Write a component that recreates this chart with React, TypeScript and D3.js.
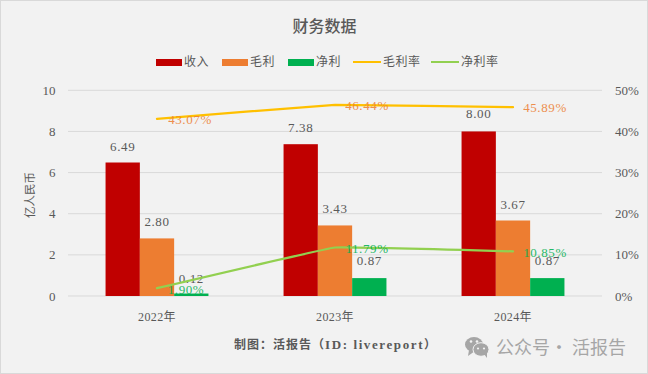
import React from "react";
import * as d3 from "d3";

const title = "财务数据";
const categories = ["2022年", "2023年", "2024年"];
const revenue = [6.49, 7.38, 8.0];
const grossProfit = [2.8, 3.43, 3.67];
const netProfit = [0.12, 0.87, 0.87];
const grossMargin = [43.07, 46.44, 45.89];
const netMargin = [1.9, 11.79, 10.85];
const leftTicks = [0, 2, 4, 6, 8, 10];
const rightTicks = [0, 10, 20, 30, 40, 50];
const barSeries = [
  { name: "收入", color: "#c00000", values: revenue },
  { name: "毛利", color: "#ed7d31", values: grossProfit },
  { name: "净利", color: "#00b050", values: netProfit },
];
const lineSeries = [
  { name: "毛利率", color: "#ffc000", labelColor: "#ed7d31", values: grossMargin },
  { name: "净利率", color: "#92d050", labelColor: "#00b050", values: netMargin },
];

const W = 648;
const H = 374;
const SERIF = "'Liberation Serif', 'Noto Sans CJK SC', serif";
const CJK = "'Liberation Serif', 'Noto Sans CJK SC', sans-serif";
const SANS = "'Noto Sans CJK SC', sans-serif";

export default function App() {
  const x = d3.scaleBand<string>().domain(categories).range([68, 602]);
  const y = d3.scaleLinear().domain([0, 10]).range([296, 90.3]);
  const yR = d3.scaleLinear().domain([0, 50]).range([296, 90.3]);
  const barW = 34.3;
  const center = (c: string) => (x(c) as number) + x.bandwidth() / 2;
  const line = d3
    .line<number>()
    .x((_, i) => center(categories[i]))
    .y((d) => yR(d))
    .curve(d3.curveCardinal.tension(0.85));

  const gridColor = "#d9d9d9";
  const textColor = "#595959";
  const labelYOffset = [
    [-12, -12, -13],
    [-12, -12, -12],
    [-11, -13, -13],
  ];
  const marginDx = [
    [33, 32, 32],
    [29, 32, 32],
  ];
  const marginDy = [
    [5, 5.5, 5],
    [6, 5.5, 5.5],
  ];
  const legendX = [156, 222, 288, 353, 431];

  return (
    <svg
      width={W}
      height={H}
      viewBox={`0 0 ${W} ${H}`}
      style={{ position: "fixed", left: 0, top: 0, display: "block" }}
    >
      <rect x={0.5} y={0.5} width={W - 1} height={H - 1} fill="#f2f2f2" stroke="#d9d9d9" strokeWidth={1} />
      <text x={324.5} y={32} textAnchor="middle" fontFamily={CJK} fontSize={16} fontWeight={500} fill={textColor}>
        {title}
      </text>

      {/* legend */}
      {barSeries.map((s, i) => (
        <g key={s.name}>
          <rect x={legendX[i]} y={59} width={26} height={7} fill={s.color} />
          <text x={legendX[i] + 28} y={66} fontFamily={CJK} fontSize={12} letterSpacing={0.5} fill={textColor}>
            {s.name}
          </text>
        </g>
      ))}
      {lineSeries.map((s, i) => (
        <g key={s.name}>
          <line x1={legendX[i + 3]} x2={legendX[i + 3] + 28} y1={62} y2={62} stroke={s.color} strokeWidth={2} />
          <text x={legendX[i + 3] + 30} y={66} fontFamily={CJK} fontSize={12} letterSpacing={0.5} fill={textColor}>
            {s.name}
          </text>
        </g>
      ))}

      {/* grid */}
      {leftTicks.map((t) => (
        <line key={t} x1={68} x2={602} y1={y(t)} y2={y(t)} stroke={gridColor} strokeWidth={1} />
      ))}
      {leftTicks.map((t) => (
        <text key={t} x={55.5} y={y(t) + 4.5} textAnchor="end" fontFamily={SERIF} fontSize={13} fill={textColor}>
          {t}
        </text>
      ))}
      {rightTicks.map((t) => (
        <text key={t} x={615} y={yR(t) + 4.5} fontFamily={SERIF} fontSize={13} fill={textColor}>
          {t}%
        </text>
      ))}
      <text
        transform="translate(34,195) rotate(-90)"
        textAnchor="middle"
        fontFamily={CJK}
        fontSize={11.5}
        fill={textColor}
      >
        亿人民币
      </text>

      {/* bars */}
      {barSeries.map((s, si) =>
        s.values.map((v, i) => {
          const bx = center(categories[i]) + (si - 1.5) * barW;
          return <rect key={s.name + i} x={bx} y={y(v)} width={barW} height={296 - y(v)} fill={s.color} />;
        })
      )}
      {barSeries.map((s, si) =>
        s.values.map((v, i) => (
          <text
            key={s.name + i}
            x={center(categories[i]) + (si - 1) * barW}
            y={y(v) + labelYOffset[si][i]}
            textAnchor="middle"
            fontFamily={SERIF}
            fontSize={13}
            letterSpacing={0.6}
            fill="#595959"
          >
            {v.toFixed(2)}
          </text>
        ))
      )}

      {/* lines */}
      {lineSeries.map((s) => (
        <path key={s.name} d={line(s.values) as string} fill="none" stroke={s.color} strokeWidth={2.25} strokeLinecap="round" />
      ))}
      {lineSeries.map((s, si) =>
        s.values.map((v, i) => (
          <text
            key={s.name + i}
            x={center(categories[i]) + marginDx[si][i]}
            y={yR(v) + marginDy[si][i]}
            textAnchor="middle"
            fontFamily={SERIF}
            fontSize={13}
            letterSpacing={0.6}
            fill={s.labelColor}
            opacity={0.85}
          >
            {v.toFixed(2)}%
          </text>
        ))
      )}

      {/* category axis */}
      {categories.map((c) => (
        <text key={c} x={center(c)} y={321} textAnchor="middle" fontFamily={SERIF} fontSize={12} letterSpacing={0.4} fill={textColor}>
          {c}
        </text>
      ))}

      <text x={234} y={349} fontFamily={CJK} fontSize={12} fontWeight={700} letterSpacing={1} fill={textColor}>
        制图：活报告（<tspan fontWeight={700} letterSpacing={1.6} fontSize={13}>ID: livereport</tspan>）
      </text>

      {/* watermark */}
      <g fill="#a6a6a6">
        <ellipse cx={474} cy={344.5} rx={9} ry={7.5} />
        <path d="M469 350 L468 356 L475 351 Z" />
        <ellipse cx={481} cy={349.5} rx={8} ry={6.8} stroke="#f2f2f2" strokeWidth={1} />
        <path d="M484 354 L487 358 L487 352 Z" />
        <circle cx={471} cy={341.5} r={1.3} fill="#f2f2f2" />
        <circle cx={477} cy={341.5} r={1.3} fill="#f2f2f2" />
        <circle cx={478} cy={348.5} r={1.1} fill="#f2f2f2" />
        <circle cx={484} cy={348.5} r={1.1} fill="#f2f2f2" />
      </g>
      <text x={496} y={354} fontFamily={SANS} fontSize={18} fill="#a6a6a6">公众号</text>
      <text x={559} y={354} textAnchor="middle" fontFamily={SANS} fontSize={18} fill="#a6a6a6">·</text>
      <text x={572} y={354} fontFamily={SANS} fontSize={18} fill="#a6a6a6">活报告</text>
    </svg>
  );
}
